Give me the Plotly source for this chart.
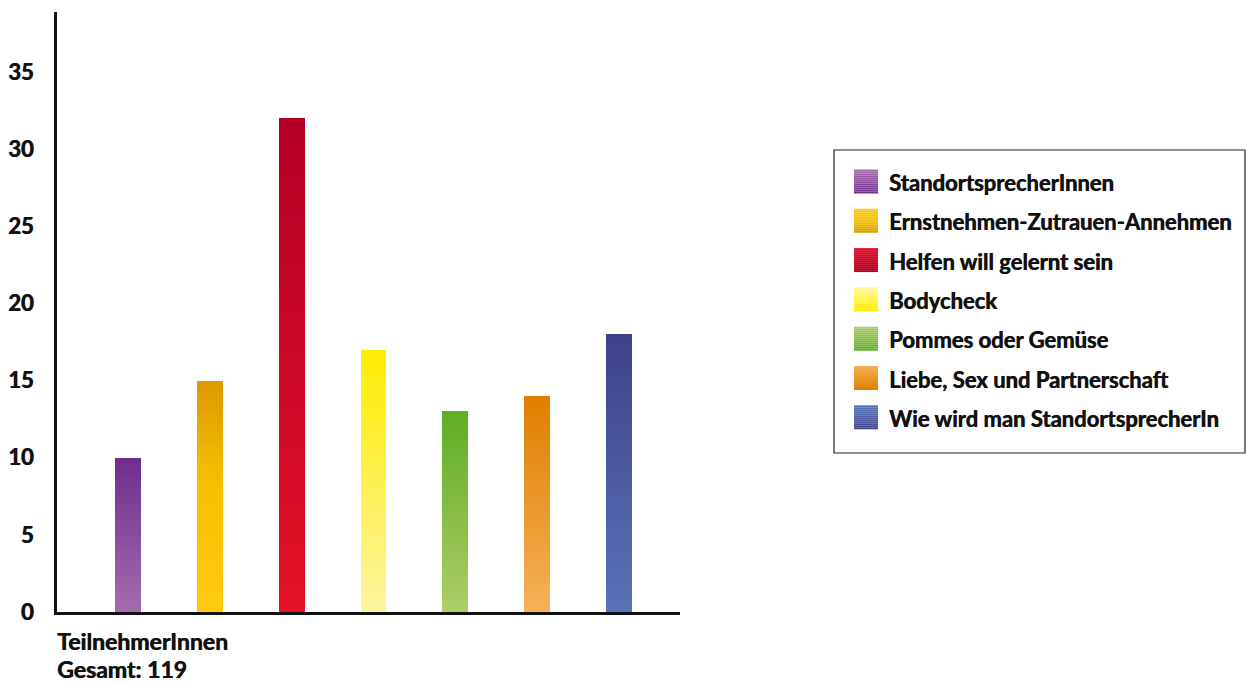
import plotly.graph_objects as go

# Kurse und Teilnehmerzahlen
kurse = [
    "StandortsprecherInnen",
    "Ernstnehmen-Zutrauen-Annehmen",
    "Helfen will gelernt sein",
    "Bodycheck",
    "Pommes oder Gemüse",
    "Liebe, Sex und Partnerschaft",
    "Wie wird man StandortsprecherIn",
]
teilnehmer = [10, 15, 32, 17, 13, 14, 18]

# Verlauf je Balken: (Anteil von oben, Farbe)
verlaeufe = [
    [(0, "#6E2E8C"), (1, "#A56BAE")],
    [(0, "#DB9A00"), (0.45, "#F6C100"), (1, "#FDCB12")],
    [(0, "#B30024"), (1, "#E41227")],
    [(0, "#FFEB00"), (1, "#FDF5A0")],
    [(0, "#5FAE23"), (1, "#ADCD68")],
    [(0, "#E07E00"), (1, "#F5B257")],
    [(0, "#3E428A"), (1, "#5873B8")],
]

FONT = "Lato"
W, H = 1246, 684
L, R, T, B = 57, 566, 12, 72
STUFEN = 60


def hex_rgb(h):
    h = h.lstrip("#")
    return [int(h[i:i + 2], 16) for i in (0, 2, 4)]


def farbe_bei(stops, t):
    for (t0, c0), (t1, c1) in zip(stops, stops[1:]):
        if t0 <= t <= t1:
            f = (t - t0) / (t1 - t0) if t1 > t0 else 0
            a, b = hex_rgb(c0), hex_rgb(c1)
            return "rgb(%d,%d,%d)" % tuple(round(a[i] + (b[i] - a[i]) * f) for i in range(3))
    return stops[-1][1]


def px_x(p):
    return (p - L) / (W - L - R)


def px_y(p):
    return (H - B - p) / (H - T - B)


def schrift(size):
    # leichter Schatten macht die Schrift etwas kraeftiger
    return dict(size=size, color="#111", family=FONT, weight="bold",
                shadow="0.6px 0 0 #111")


fig = go.Figure()

for i, (wert, stops) in enumerate(zip(teilnehmer, verlaeufe)):
    h = wert / STUFEN
    fig.add_trace(go.Bar(
        x=[i] * STUFEN,
        y=[h] * STUFEN,
        base=[k * h for k in range(STUFEN)],
        width=0.317,
        marker=dict(
            color=[farbe_bei(stops, 1 - (k + 0.5) / STUFEN) for k in range(STUFEN)],
            line=dict(width=0),
        ),
        showlegend=False,
        hoverinfo="skip",
    ))

# eigene Legende
shapes = [dict(type="rect", xref="paper", yref="paper",
               x0=px_x(834), x1=px_x(1245), y0=px_y(150), y1=px_y(453),
               line=dict(color="#222", width=1.2), fillcolor="white")]
annotations = []
schritt = 39.3
for i, (name, stops) in enumerate(zip(kurse, verlaeufe)):
    yc = 181.5 + i * schritt
    n = 12
    for k in range(n):
        t = (k + 0.5) / n
        shapes.append(dict(type="rect", xref="paper", yref="paper",
                           x0=px_x(854), x1=px_x(878),
                           y0=px_y(yc - 12 + k * 2), y1=px_y(yc - 12 + (k + 1) * 2),
                           line=dict(width=0), fillcolor=farbe_bei(stops, 1 - t)))
    annotations.append(dict(text=name, xref="paper", yref="paper",
                            x=px_x(887), y=px_y(yc + 1), xanchor="left", yanchor="middle",
                            showarrow=False, font=schrift(22)))

annotations.append(dict(text="TeilnehmerInnen", xref="paper", yref="paper",
                        x=px_x(55), y=px_y(641), xanchor="left", yanchor="middle",
                        showarrow=False, font=schrift(23)))
annotations.append(dict(text="Gesamt: 119", xref="paper", yref="paper",
                        x=px_x(55), y=px_y(669), xanchor="left", yanchor="middle",
                        showarrow=False, font=schrift(23)))

fig.update_layout(
    width=W, height=H,
    margin=dict(l=L, r=R, t=T, b=B),
    paper_bgcolor="white", plot_bgcolor="white",
    barmode="overlay",
    bargap=0,
    shapes=shapes,
    annotations=annotations,
    font=schrift(22),
    xaxis=dict(range=[-0.866, 6.744], showticklabels=False, showgrid=False,
               zeroline=False, showline=True, linecolor="#111", linewidth=3,
               ticks="", automargin=False),
    yaxis=dict(range=[0, 38.9], tickvals=[0, 5, 10, 15, 20, 25, 30, 35],
               showgrid=False, zeroline=False, showline=True, linecolor="#111",
               linewidth=3, ticks="", ticklabelstandoff=16, automargin=False,
               tickfont=schrift(22)),
)

fig.write_html("out.html", config={"displayModeBar": False},
               post_script="document.body.style.margin='0px';")
